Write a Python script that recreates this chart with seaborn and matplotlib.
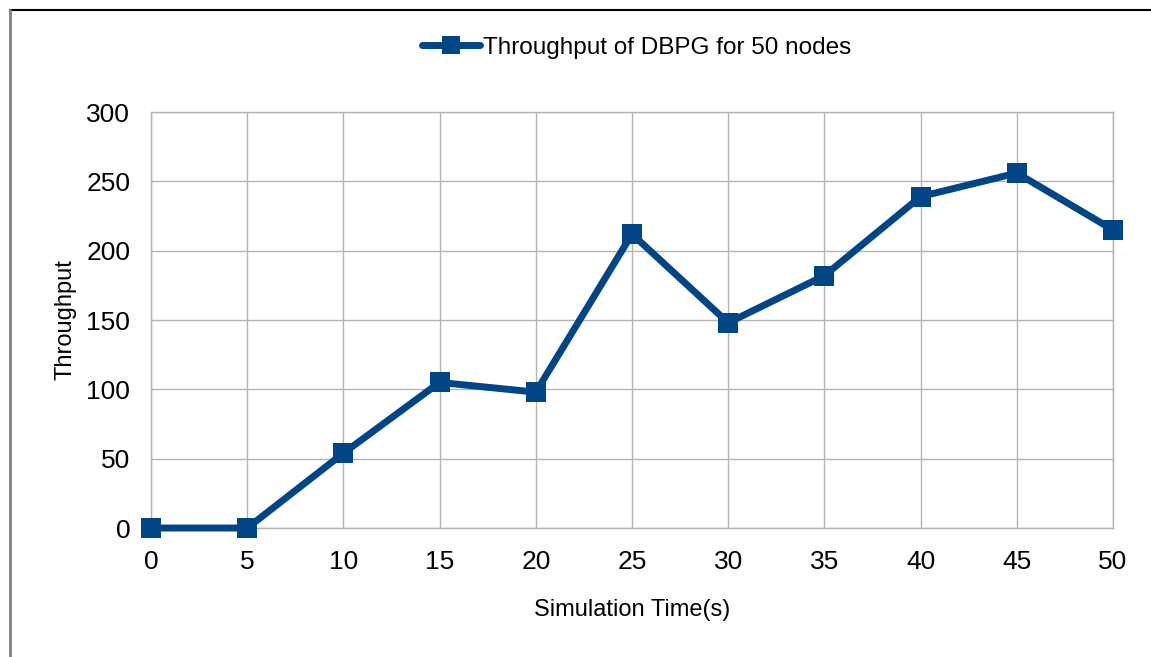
import pandas as pd
import seaborn as sns
import matplotlib.pyplot as plt
from matplotlib.lines import Line2D

# Data
sim_time = [0, 5, 10, 15, 20, 25, 30, 35, 40, 45, 50]
throughput = [0, 0, 54, 105, 98, 212, 148, 182, 239, 256, 215]
series_name = "Throughput of DBPG for 50 nodes"

df = pd.DataFrame({"time": sim_time, "throughput": throughput, "series": series_name})

sns.set_style("white")
plt.rcParams["font.family"] = ["Liberation Sans", "DejaVu Sans"]
plt.rcParams["text.color"] = "black"
plt.rcParams["axes.labelcolor"] = "black"
plt.rcParams["xtick.color"] = "black"
plt.rcParams["ytick.color"] = "black"

fig = plt.figure(figsize=(11.51, 6.57), dpi=100)
ax = fig.add_axes([0.1312, 0.1963, 0.967 - 0.1312, 0.8295 - 0.1963])

color = "#004586"
sns.lineplot(
    data=df, x="time", y="throughput", hue="series", palette=[color],
    marker="s", markersize=14, markeredgewidth=0, linewidth=5,
    ax=ax, legend=False, zorder=3, clip_on=False
)

ax.set_xlim(0, 50)
ax.set_ylim(0, 300)
ax.set_xticks(sim_time)
ax.set_yticks(range(0, 301, 50))
ax.grid(True, color="#b3b3b3", linewidth=1)
for s in ax.spines.values():
    s.set_visible(True)
    s.set_color("#b3b3b3")
    s.set_linewidth(1)
ax.tick_params(axis="both", labelsize=19, length=7, color="#b3b3b3", width=1,
               labelcolor="black", direction="out")
ax.tick_params(axis="x", pad=9)
ax.tick_params(axis="y", pad=8)

ax.set_xlabel("Simulation Time(s)", fontsize=17, labelpad=18)
ax.set_ylabel("Throughput", fontsize=17, labelpad=7)

handle = Line2D([0], [0], color=color, linewidth=5, marker="s", markersize=13,
                markeredgewidth=0, solid_capstyle="round")
fig.legend([handle], [series_name], loc="center", bbox_to_anchor=(0.553, 0.927),
           frameon=False, fontsize=17.5, handlelength=2.4, handletextpad=0.1)

# Frame lines around the figure edge
fig.add_artist(Line2D([0.0087, 1.0], [0.985, 0.985], color="black", linewidth=1.5,
                      transform=fig.transFigure))
fig.add_artist(Line2D([0.0087, 0.0087], [0.0, 0.985], color="#808080", linewidth=2,
                      transform=fig.transFigure))

plt.savefig("out.png", dpi=100)
